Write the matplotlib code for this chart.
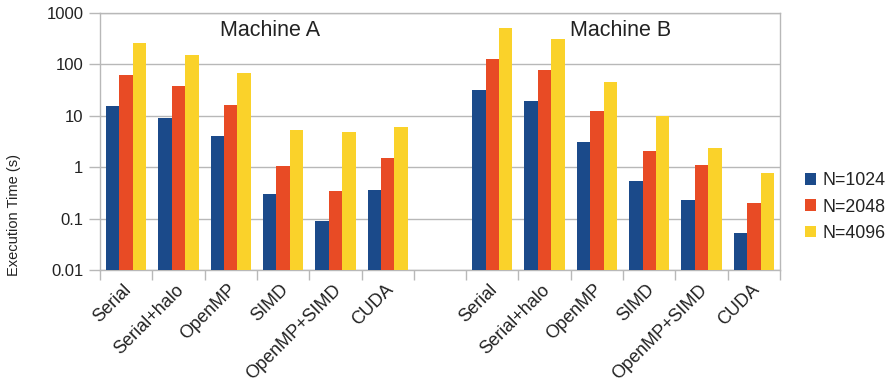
import matplotlib
matplotlib.use("Agg")
import matplotlib.pyplot as plt
import numpy as np
from matplotlib.patches import Patch

plt.rcParams['font.family'] = ['Liberation Sans', 'DejaVu Sans']

methods = ["Serial", "Serial+halo", "OpenMP", "SIMD", "OpenMP+SIMD", "CUDA"]
series_names = ["N=1024", "N=2048", "N=4096"]

# Execution times (s), machine A
a_1024 = [15.7, 9.1, 4.07, 0.30, 0.09, 0.36]
a_2048 = [63, 38, 16.4, 1.06, 0.346, 1.52]
a_4096 = [264, 154, 69, 5.3, 4.9, 6.1]

# Execution times (s), machine B
b_1024 = [32, 19.6, 3.1, 0.54, 0.23, 0.053]
b_2048 = [129, 79, 12.5, 2.08, 1.11, 0.20]
b_4096 = [517, 316, 46, 10.1, 2.38, 0.78]

y_ticks = [0.01, 0.1, 1, 10, 100, 1000]
y_tick_labels = ["0.01", "0.1", "1", "10", "100", "1000"]

colors = ["#1b4a8a", "#e84b25", "#fad22a"]
text_color = "#222222"
grid_color = "#b8b8b8"

W, H = 893, 389
fig = plt.figure(figsize=(W / 100, H / 100), dpi=100)
ax = fig.add_axes([100 / W, 1 - 270 / H, 680 / W, 257 / H])

# machine A in slots 0-5, empty slot 6, machine B in slots 7-12
pos_a = np.arange(len(methods))
pos_b = np.arange(len(methods)) + len(methods) + 1
width = 0.257
series_a = [a_1024, a_2048, a_4096]
series_b = [b_1024, b_2048, b_4096]
for i in range(3):
    off = (i - 1) * width
    ax.bar(pos_a + off, series_a[i], width, color=colors[i], zorder=3)
    ax.bar(pos_b + off, series_b[i], width, color=colors[i], zorder=3)

ax.set_yscale("log")
ax.set_ylim(0.01, 1000)
ax.set_xlim(-0.5, 12.5)
ax.yaxis.set_major_locator(matplotlib.ticker.FixedLocator(y_ticks))
ax.yaxis.set_minor_locator(matplotlib.ticker.NullLocator())
ax.set_yticklabels(y_tick_labels)
ax.grid(axis="y", color=grid_color, lw=1.0, zorder=0)

# boundary ticks between categories, labels at category centres
ax.set_xticks(np.arange(-0.5, 13, 1.0))
ax.set_xticklabels([])
ax.set_xticks(np.concatenate([pos_a, pos_b]) - 0.06, minor=True)
ax.set_xticklabels(methods + methods, minor=True, rotation=45, ha="right",
                   va="top", rotation_mode="anchor", fontsize=13, color=text_color)
ax.tick_params(axis="x", which="major", length=7, color=grid_color, width=1)
ax.tick_params(axis="x", which="minor", length=0, pad=8)
ax.tick_params(axis="y", length=8, color=grid_color, width=1, labelsize=12,
               labelcolor=text_color, pad=4)

for side in ["left", "right", "bottom", "top"]:
    ax.spines[side].set_color(grid_color)
    ax.spines[side].set_linewidth(1.0)

ax.text(2.75, 1 - 17.5 / 257, "Machine A", transform=ax.get_xaxis_transform(),
        ha="center", va="center", fontsize=15.5, color=text_color)
ax.text(9.45, 1 - 18 / 257, "Machine B", transform=ax.get_xaxis_transform(),
        ha="center", va="center", fontsize=15.5, color=text_color)

fig.text(14 / W, 1 - 215 / H, "Execution Time (s)", rotation=90, ha="center",
         va="center", fontsize=10.5, color=text_color)

handles = [Patch(facecolor=c, edgecolor="none") for c in colors]
fig.legend(handles, series_names, loc="center left",
           bbox_to_anchor=(805 / W, 1 - 207 / H), frameon=False,
           borderpad=0, borderaxespad=0,
           fontsize=12.8, handlelength=0.62, handleheight=0.62,
           handletextpad=0.34, labelspacing=0.52, labelcolor=text_color)

fig.savefig("out.png", dpi=100)
